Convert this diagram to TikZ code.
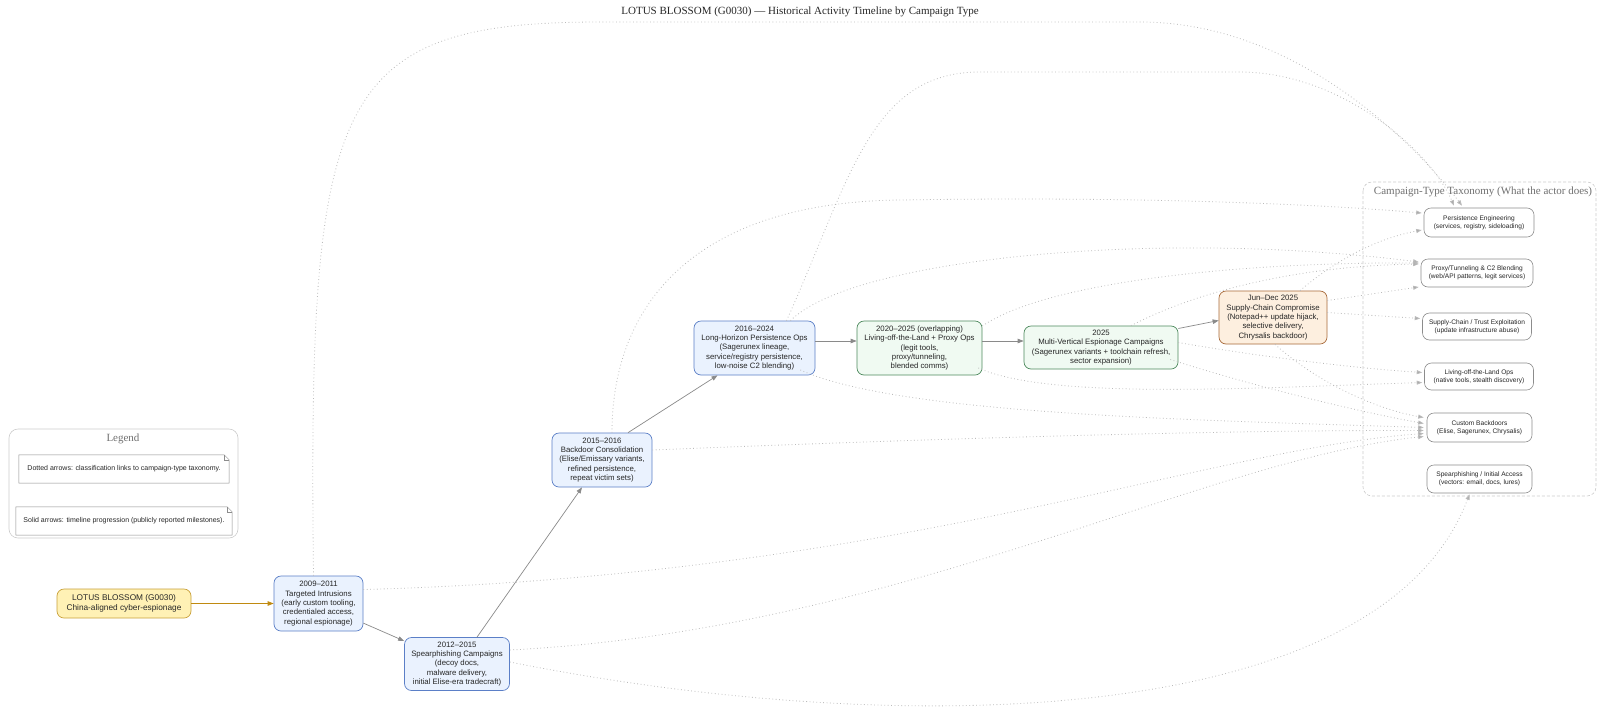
\documentclass[tikz,border=0pt]{standalone}
\usepackage{fontspec}
\setmainfont{Liberation Serif}
\newfontfamily\sansf{Liberation Sans}
\usetikzlibrary{arrows.meta,calc}
\definecolor{bfill}{HTML}{EAF2FE}
\definecolor{bdraw}{HTML}{5B7FC7}
\definecolor{gfill}{HTML}{F0FAF2}
\definecolor{gdraw}{HTML}{4E8A5E}
\definecolor{ofill}{HTML}{FDEFDF}
\definecolor{odraw}{HTML}{A86A3A}
\definecolor{yfill}{HTML}{FFF1B5}
\definecolor{ydraw}{HTML}{C9A13A}
\definecolor{solidc}{HTML}{8A8A8A}
\definecolor{orangec}{HTML}{C08A10}
\definecolor{dotc}{HTML}{BBBBBB}
\definecolor{taxdraw}{HTML}{8C8C8C}
\definecolor{clusc}{HTML}{CCCCCC}
\definecolor{clustxt}{HTML}{707070}
\begin{document}
\begin{tikzpicture}[x=1pt,y=-1pt,
  tl/.style={draw, rounded corners=7pt, align=center, inner sep=1pt, line width=0.7pt,
     font=\sansf\fontsize{7.8}{9.4}\selectfont, text=black!85},
  blu/.style={tl, fill=bfill, draw=bdraw},
  grn/.style={tl, fill=gfill, draw=gdraw},
  org/.style={tl, fill=ofill, draw=odraw},
  yel/.style={tl, fill=yfill, draw=ydraw, font=\sansf\fontsize{8.3}{10}\selectfont},
  tax/.style={draw=taxdraw, rounded corners=7pt, align=center, inner sep=1pt, line width=0.6pt,
     fill=white, font=\sansf\fontsize{6.6}{8.3}\selectfont, text=black!85,
     minimum height=28pt},
  solidarr/.style={draw=solidc, line width=0.7pt, -{Triangle[length=6pt,width=4.5pt]}},
  dotarr/.style={draw=dotc, line width=0.8pt, dash pattern=on 0.8pt off 2.6pt,
     -{Triangle[length=5.5pt,width=4pt,fill=dotc!90!black]}},
  clus/.style={draw=clusc, rounded corners=9pt, line width=0.6pt},
  clustitle/.style={font=\fontsize{11}{13}\selectfont, text=clustxt},
  notetext/.style={font=\sansf\fontsize{7}{8.5}\selectfont, text=black!85, inner sep=0pt}
]
\useasboundingbox[fill=white] (0,0) rectangle (1600,713);

% title
\node[font=\fontsize{11}{13}\selectfont, text=black!85] (title) at (800,12)
  {LOTUS BLOSSOM (G0030) — Historical Activity Timeline by Campaign Type};

% clusters
\draw[clus] (9,429) rectangle (238,538);
\node[clustitle] (legtitle) at (123,439) {Legend};
\draw[clus, dash pattern=on 3pt off 2pt] (1363,182) rectangle (1596,496);
\node[clustitle] (taxtitle) at (1483,192) {Campaign-Type Taxonomy (What the actor does)};

% legend notes
\node[notetext, minimum width=210pt, minimum height=28pt] (note1) at (124,469)
  {Dotted arrows: classification links to campaign-type taxonomy.};
\node[notetext, minimum width=216pt, minimum height=28pt] (note2) at (124,521)
  {Solid arrows: timeline progression (publicly reported milestones).};
\foreach \n in {note1,note2}{
  \draw[draw=taxdraw, line width=0.5pt]
    (\n.north west) -- ($(\n.north east)+(-5,0)$) -- ($(\n.north east)+(0,5)$)
    -- (\n.south east) -- (\n.south west) -- cycle;
  \draw[draw=taxdraw, line width=0.5pt]
    ($(\n.north east)+(-5,0)$) -- ($(\n.north east)+(-5,5)$) -- ($(\n.north east)+(0,5)$);
}

% timeline nodes
\node[yel, minimum width=134pt, minimum height=29pt] (start) at (124,603.5)
  {LOTUS BLOSSOM (G0030)\\China-aligned cyber-espionage};
\node[blu, minimum width=89pt, minimum height=55pt] (n2009) at (318.5,603.5)
  {2009–2011\\Targeted Intrusions\\(early custom tooling,\\credentialed access,\\regional espionage)};
\node[blu, minimum width=105pt, minimum height=53pt] (n2012) at (457,664)
  {2012–2015\\Spearphishing Campaigns\\(decoy docs,\\malware delivery,\\initial Elise-era tradecraft)};
\node[blu, minimum width=100pt, minimum height=54pt] (n2015) at (602,460)
  {2015–2016\\Backdoor Consolidation\\(Elise/Emissary variants,\\refined persistence,\\repeat victim sets)};
\node[blu, minimum width=121pt, minimum height=54pt] (n2016) at (754.5,348)
  {2016–2024\\Long-Horizon Persistence Ops\\(Sagerunex lineage,\\service/registry persistence,\\low-noise C2 blending)};
\node[grn, minimum width=125pt, minimum height=54pt] (n2020) at (919.5,348)
  {2020–2025 (overlapping)\\Living-off-the-Land + Proxy Ops\\(legit tools,\\proxy/tunneling,\\blended comms)};
\node[grn, minimum width=154pt, minimum height=43pt] (n2025) at (1101,347.5)
  {2025\\Multi-Vertical Espionage Campaigns\\(Sagerunex variants + toolchain refresh,\\sector expansion)};
\node[org, minimum width=108pt, minimum height=53pt] (junedec) at (1273,317.5)
  {Jun–Dec 2025\\Supply-Chain Compromise\\(Notepad++ update hijack,\\selective delivery,\\Chrysalis backdoor)};

% taxonomy nodes
\node[tax, minimum width=110pt, minimum height=29pt] (persist) at (1479,222.5)
  {Persistence Engineering\\(services, registry, sideloading)};
\node[tax, minimum width=112pt] (proxy) at (1477,273)
  {Proxy/Tunneling \& C2 Blending\\(web/API patterns, legit services)};
\node[tax, minimum width=109pt, minimum height=27pt] (supply) at (1477,326.5)
  {Supply-Chain / Trust Exploitation\\(update infrastructure abuse)};
\node[tax, minimum width=109pt, minimum height=27pt] (lotl) at (1479,376.5)
  {Living-off-the-Land Ops\\(native tools, stealth discovery)};
\node[tax, minimum width=105pt, minimum height=29pt] (custom) at (1479.5,427.5)
  {Custom Backdoors\\(Elise, Sagerunex, Chrysalis)};
\node[tax, minimum width=105pt] (spear) at (1479.5,479)
  {Spearphishing / Initial Access\\(vectors: email, docs, lures)};

% solid timeline arrows
\draw[draw=orangec, line width=0.8pt, -{Triangle[length=6pt,width=4.5pt]}] (start) -- (n2009);
\draw[solidarr] (n2009) -- (n2012);
\draw[solidarr] ($(n2012.north)+(20,0)$) -- ($(n2015.south)+(-20,0)$);
\draw[solidarr] ($(n2015.north)+(26,0)$) -- ($(n2016.south)+(-37,0)$);
\draw[solidarr] ($(n2016.east)+(0,-7)$) -- ($(n2020.west)+(0,-7)$);
\draw[solidarr] ($(n2020.east)+(0,-7)$) -- ($(n2025.west)+(0,-6.5)$);
\draw[solidarr] ($(n2025.east)+(0,-19)$) -- ($(junedec.west)+(0,3)$);

% dotted classification arrows
\draw[dotarr] ($(n2009.north)+(-5,0)$) .. controls (308,100) and (330,22) .. (600,22)
   -- (1140,22) .. controls (1300,22) and (1420,150) .. ($(persist.north)+(-17,-2)$);
\draw[dotarr] ($(n2016.north)+(32,0)$) .. controls (850,180) and (870,72) .. (980,72)
   -- (1240,72) .. controls (1340,72) and (1430,150) .. ($(persist.north)+(-25,-2)$);
\draw[dotarr] ($(n2015.north)+(10,0)$) .. controls (612,300) and (700,202) .. (900,200)
   .. controls (1150,196) and (1330,205) .. ($(persist.west)+(-2,-9.5)$);
\draw[dotarr] ($(junedec.north)+(27,0)$) .. controls (1330,265) and (1370,240) .. ($(persist.west)+(-2,7.5)$);

\draw[dotarr] ($(n2016.north)+(36,0)$) .. controls (850,260) and (1150,228) .. ($(proxy.west)+(-2,-11)$);
\draw[dotarr] ($(n2020.east)+(0,-22)$) .. controls (1050,280) and (1250,262) .. ($(proxy.west)+(-2,-10)$);
\draw[dotarr] ($(n2025.north)+(30,0)$) .. controls (1200,290) and (1300,266) .. ($(proxy.west)+(-2,-9)$);
\draw[dotarr] ($(junedec.east)+(0,-17)$) -- ($(proxy.west)+(-2,14)$);

\draw[dotarr] ($(junedec.east)+(0,-5)$) -- ($(supply.west)+(-2,-8)$);

\draw[dotarr] ($(n2020.east)+(-4,20)$) .. controls (1050,400) and (1250,388) .. ($(lotl.west)+(-2,6)$);
\draw[dotarr] ($(n2025.east)+(0,-5)$) .. controls (1250,355) and (1350,368) .. ($(lotl.west)+(-2,-4)$);

\draw[dotarr] ($(n2009.east)+(0,-14)$) .. controls (900,575) and (1200,450) .. ($(custom.west)+(-3,6)$);
\draw[dotarr] ($(n2012.east)+(0,-14)$) .. controls (900,630) and (1200,460) .. ($(custom.west)+(-3,9)$);
\draw[dotarr] ($(n2015.east)+(0,-10)$) .. controls (900,440) and (1200,430) .. ($(custom.west)+(-3,3)$);
\draw[dotarr] ($(n2016.east)+(-15,22)$) .. controls (900,415) and (1200,420) .. ($(custom.west)+(-3,0)$);
\draw[dotarr] ($(n2025.east)+(-8,12)$) .. controls (1250,385) and (1350,410) .. ($(custom.west)+(-3,-4)$);
\draw[dotarr] ($(junedec.south)+(2,0)$) .. controls (1320,385) and (1380,410) .. ($(custom.west)+(-3,-10)$);

\draw[dotarr] ($(n2012.east)+(0,-2)$) .. controls (900,740) and (1380,730) .. ($(spear.south)+(-10,1)$);
\end{tikzpicture}
\end{document}
